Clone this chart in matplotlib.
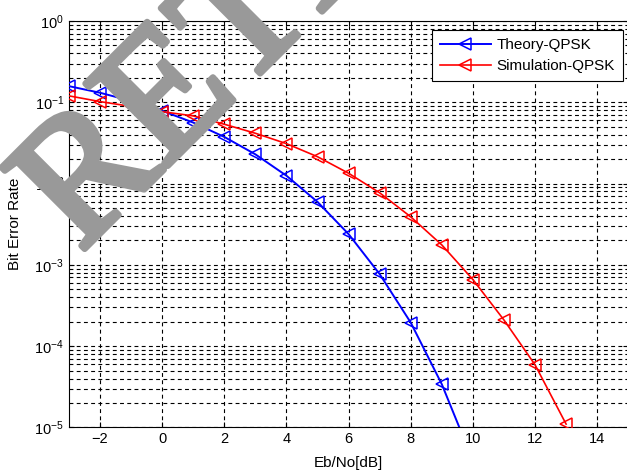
import matplotlib
matplotlib.use("Agg")
import matplotlib.pyplot as plt
import matplotlib.patheffects as pe
from matplotlib.ticker import LogLocator, FixedLocator

plt.rcParams['font.family'] = ['Liberation Sans', 'DejaVu Sans']
plt.rcParams['mathtext.fontset'] = 'custom'
plt.rcParams['mathtext.rm'] = 'Liberation Sans'
plt.rcParams['mathtext.it'] = 'Liberation Sans'

# データ
snr_theory = [-3, -2, -1, 0, 1, 2, 3, 4, 5, 6, 7, 8, 9, 10]
ber_theory = [0.158, 0.131, 0.104, 0.0786, 0.0563, 0.0375, 0.0229, 0.0125,
              0.00595, 0.00239, 7.7e-4, 1.95e-4, 3.4e-5, 3.9e-6]

snr_sim = [-3, -2, -1, 0, 1, 2, 3, 4, 5, 6, 7, 8, 9, 10, 11, 12, 13]
ber_sim = [0.12, 0.102, 0.089, 0.0767, 0.068, 0.0537, 0.0416, 0.031, 0.0214,
           0.0134, 0.0077, 0.0039, 0.00176, 6.6e-4, 2.1e-4, 5.9e-5, 1.1e-5]

x_ticks = [-2, 0, 2, 4, 6, 8, 10, 12, 14]
y_ticks = [1e-5, 1e-4, 1e-3, 1e-2, 1e-1, 1e0]
y_labels = [r'$\mathregular{10^{-5}}$', r'$\mathregular{10^{-4}}$', r'$\mathregular{10^{-3}}$',
            r'$\mathregular{10^{-2}}$', r'$\mathregular{10^{-1}}$', r'$\mathregular{10^{0}}$']

fig = plt.figure(figsize=(6.27, 4.71), dpi=100)
ax = fig.add_axes([0.110, 0.0924, 0.892, 0.863])

ax.semilogy(snr_theory, ber_theory, '-', color='blue', lw=1.4, marker='<',
            markersize=9, markerfacecolor='none', markeredgecolor='blue',
            markeredgewidth=1.1, label='Theory-QPSK', zorder=3)
ax.semilogy(snr_sim, ber_sim, '-', color='red', lw=1.2, marker='<',
            markersize=9, markerfacecolor='none', markeredgecolor='red',
            markeredgewidth=1.1, label='Simulation-QPSK', zorder=3)

ax.set_xlim(-3, 15)
ax.set_ylim(1e-5, 1e0)
ax.xaxis.set_major_locator(FixedLocator(x_ticks))
ax.set_yticks(y_ticks)
ax.set_yticklabels(y_labels)
ax.yaxis.set_minor_locator(LogLocator(base=10, subs=range(2, 10)))
ax.tick_params(which='both', direction='in', top=True, right=True, labelsize=10.5)
ax.tick_params(axis='y', which='minor', labelleft=False)

# 点線グリッド
ax.grid(True, which='major', axis='both', color='black', linestyle=(0, (3.5, 3)), lw=0.8)
ax.grid(True, which='minor', axis='y', color='black', linestyle=(0, (3.5, 3)), lw=0.8)

ax.set_xlabel('Eb/No[dB]', fontsize=11, labelpad=7)
ax.set_ylabel('Bit Error Rate', fontsize=11, labelpad=9)

leg = ax.legend(loc='upper right', fontsize=11, fancybox=False, framealpha=1,
                edgecolor='black', handlelength=3.3, handletextpad=0.4,
                borderpad=0.5, labelspacing=0.45, borderaxespad=0,
                bbox_to_anchor=(0.99, 0.977))
leg.get_frame().set_linewidth(0.8)
leg.set_zorder(5)

# 透かし (少し太く)
fig.text(0.128, 0.462, 'RETRACTED', fontsize=128, family='Liberation Serif',
         color='#999999', rotation=45, rotation_mode='anchor',
         ha='left', va='baseline', zorder=10,
         path_effects=[pe.withStroke(linewidth=4.5, foreground='#999999')])

fig.savefig('out.png', dpi=100)
